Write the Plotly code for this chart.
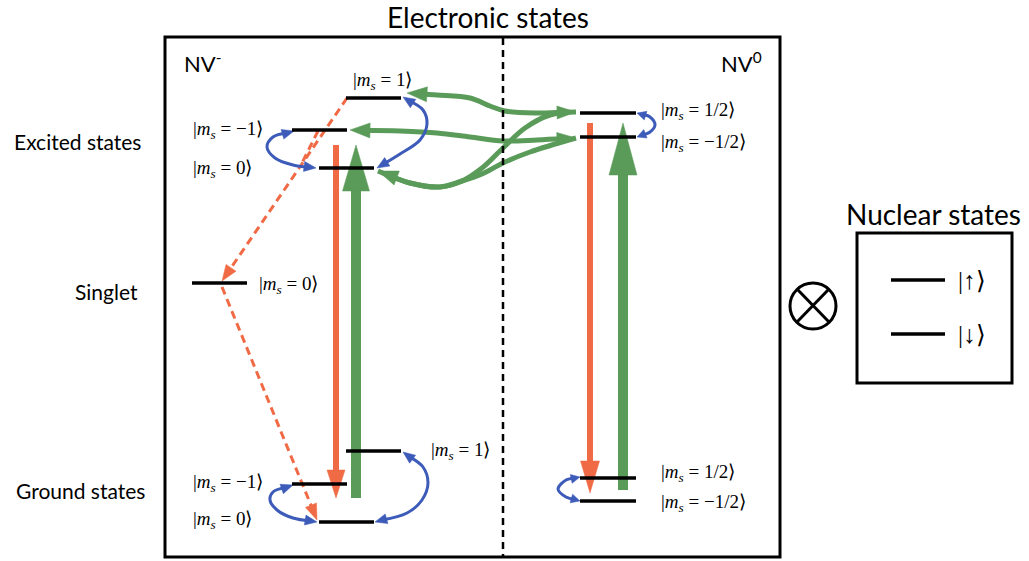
import math
import plotly.graph_objects as go

W, H = 1029, 561

RED = "#F06A45"
GREEN = "#5B9B5A"
BLUE = "#3D5BB9"

# ---- energy levels (name, x-start, x-end, energy position) ----
level_names = ["es_p1", "es_m1", "es_0", "singlet", "gs_p1", "gs_m1", "gs_0",
               "nv0_es_up", "nv0_es_dn", "nv0_gs_up", "nv0_gs_dn"]
level_x0 = [346, 292, 319, 192, 346, 292, 319, 580, 580, 580, 580]
level_x1 = [401, 347, 374, 247, 401, 347, 374, 636, 636, 636, 636]
level_y = [98, 130, 168, 283, 451, 484, 522, 113, 137, 478, 501]

# ---- state labels ----
label_values = ["1", "−1", "0", "0", "1", "−1", "0", "1/2", "−1/2", "1/2", "−1/2"]
label_x = [351, 191, 191, 257, 429, 191, 191, 659, 659, 659, 659]
label_y = [81, 130, 169, 285, 451, 483, 520, 111, 143, 473, 503]

# ---- nuclear levels ----
nuc_labels = ["|↑⟩", "|↓⟩"]
nuc_y = [280, 334]
nuc_x0, nuc_x1 = 891, 945

# ---- optical transitions (x, start, end) ----
vert_x = [336, 356, 590, 623]
vert_from = [145, 498, 123, 490]
vert_to = [498, 145, 493, 123]
vert_color = [RED, GREEN, RED, GREEN]
vert_width = [6, 10, 6, 10]
vert_head = [(28, 18), (46, 27), (32, 19), (52, 28)]

# ---- spin-mixing curves (blue, double headed) ----
blue_curves = [
    [(294, 131), (273, 137), (267, 147), (275, 158), (293, 165), (316, 168)],
    [(403, 97), (423, 110), (427, 124), (420, 140), (400, 154), (377, 168)],
    [(293, 485), (273, 492), (270, 500), (277, 510), (293, 518), (317, 522)],
    [(403, 452), (423, 467), (428, 483), (422, 500), (407, 513), (375, 522)],
    [(637, 113), (650, 117), (655, 125), (650, 132), (637, 137)],
    [(580, 477), (566, 480), (558, 489), (566, 497), (580, 501)],
]
blue_head = [(12, 10), (12, 10), (12, 10), (12, 10), (9, 9), (9, 9)]

# ---- charge conversion curves (green) ----
green_curves = [
    [(407, 93), (437, 95), (470, 98), (490, 106), (505, 111), (537, 113), (576, 112)],
    [(350, 130), (400, 131), (437, 133), (470, 137), (503, 141), (537, 140), (576, 138)],
    [(378, 171), (410, 183), (440, 187), (462, 181), (482, 168), (503, 148), (525, 128), (550, 115), (576, 112)],
    [(378, 171), (410, 183), (440, 187), (462, 181), (482, 174), (503, 163), (530, 152), (576, 138)],
]
green_heads_start = [True, True, True, False]
green_heads_end = [True, True, False, False]

# ---- intersystem crossing (red dashed) ----
dashed_lines = [
    [(347, 98), (222, 281)],
    [(318, 131), (301, 165)],
    [(222, 287), (317, 520)],
]
dashed_heads_end = [True, False, True]

fig = go.Figure()


def head(tip, frm, L, Wd, color):
    dx, dy = tip[0] - frm[0], tip[1] - frm[1]
    n = math.hypot(dx, dy)
    ux, uy = dx / n, dy / n
    bx, by = tip[0] - ux * L, tip[1] - uy * L
    px, py = -uy, ux
    xs = [tip[0], bx + px * Wd / 2, bx - px * Wd / 2, tip[0]]
    ys = [tip[1], by + py * Wd / 2, by - py * Wd / 2, tip[1]]
    fig.add_trace(go.Scatter(x=xs, y=ys, mode="lines", fill="toself",
                             fillcolor=color, line=dict(color=color, width=0.5),
                             hoverinfo="skip"))


def shorten(pts, L, at_start, at_end):
    pts = list(pts)
    if at_start:
        (x0, y0), (x1, y1) = pts[0], pts[1]
        d = math.hypot(x1 - x0, y1 - y0)
        pts[0] = (x0 + (x1 - x0) / d * L, y0 + (y1 - y0) / d * L)
    if at_end:
        (x0, y0), (x1, y1) = pts[-1], pts[-2]
        d = math.hypot(x1 - x0, y1 - y0)
        pts[-1] = (x0 + (x1 - x0) / d * L, y0 + (y1 - y0) / d * L)
    return pts


# vertical optical arrows
for x, y0, y1, c, w, (L, Wd) in zip(vert_x, vert_from, vert_to, vert_color, vert_width, vert_head):
    sgn = 1 if y1 > y0 else -1
    fig.add_trace(go.Scatter(x=[x, x], y=[y0, y1 - sgn * (L - 2)], mode="lines",
                             line=dict(color=c, width=w), hoverinfo="skip"))
    head((x, y1), (x, y0), L, Wd, c)

# red dashed
for pts, he in zip(dashed_lines, dashed_heads_end):
    p = shorten(pts, 12, False, he)
    fig.add_trace(go.Scatter(x=[q[0] for q in p], y=[q[1] for q in p], mode="lines",
                             line=dict(color=RED, width=3, dash="8px,5px"), hoverinfo="skip"))
    if he:
        head(pts[-1], pts[0], 16, 12, RED)

# green curves
for pts, hs, he in zip(green_curves, green_heads_start, green_heads_end):
    p = shorten(pts, 12, hs, he)
    fig.add_trace(go.Scatter(x=[q[0] for q in p], y=[q[1] for q in p], mode="lines",
                             line=dict(color=GREEN, width=5, shape="spline"), hoverinfo="skip"))
    if hs:
        head(pts[0], pts[1], 20, 15, GREEN)
    if he:
        head(pts[-1], pts[-2], 19, 13, GREEN)

# blue curves
for pts, (L, Wd) in zip(blue_curves, blue_head):
    p = shorten(pts, L * 0.6, True, True)
    fig.add_trace(go.Scatter(x=[q[0] for q in p], y=[q[1] for q in p], mode="lines",
                             line=dict(color=BLUE, width=3, shape="spline"), hoverinfo="skip"))
    head(pts[0], pts[1], L, Wd, BLUE)
    head(pts[-1], pts[-2], L, Wd, BLUE)

# energy levels on top
for x0, x1, y in zip(level_x0, level_x1, level_y):
    fig.add_trace(go.Scatter(x=[x0, x1], y=[y, y], mode="lines",
                             line=dict(color="black", width=3.5), hoverinfo="skip"))
for y in nuc_y:
    fig.add_trace(go.Scatter(x=[nuc_x0, nuc_x1], y=[y, y], mode="lines",
                             line=dict(color="black", width=3.5), hoverinfo="skip"))

# frames
shapes = [
    dict(type="rect", x0=165, y0=37, x1=780, y1=557, line=dict(color="black", width=3)),
    dict(type="line", x0=503, y0=38, x1=503, y1=556, line=dict(color="black", width=2.5, dash="7px,5px")),
    dict(type="rect", x0=857, y0=233, x1=1012, y1=383, line=dict(color="black", width=3)),
    dict(type="circle", x0=790, y0=283, x1=836, y1=329, line=dict(color="black", width=3)),
    dict(type="line", x0=797, y0=289, x1=829, y1=322, line=dict(color="black", width=3)),
    dict(type="line", x0=797, y0=322, x1=829, y1=289, line=dict(color="black", width=3)),
]

ann = []
SANS = "Lato"
SERIF = "Liberation Serif"
ann.append(dict(x=488, y=17, text="Electronic states", font=dict(family=SANS, size=28, color="black")))
ann.append(dict(x=933, y=214, text="Nuclear states", font=dict(family=SANS, size=28, color="black")))
ann.append(dict(x=143, y=141, text="Excited states", xanchor="right", font=dict(family=SANS, size=21, color="black")))
ann.append(dict(x=140, y=291, text="Singlet", xanchor="right", font=dict(family=SANS, size=21, color="black")))
ann.append(dict(x=147, y=490, text="Ground states", xanchor="right", font=dict(family=SANS, size=21, color="black")))
ann.append(dict(x=182, y=62, text="NV<sup>-</sup>", xanchor="left", font=dict(family=SANS, size=22, color="black")))
ann.append(dict(x=764, y=62, text="NV<sup>0</sup>", xanchor="right", font=dict(family=SANS, size=22, color="black")))

for v, x, y in zip(label_values, label_x, label_y):
    ann.append(dict(x=x, y=y, xanchor="left",
                    text=f"|<i>m<sub>s</sub></i> = {v}⟩",
                    font=dict(family=SERIF, size=19, color="black")))
for t, y in zip(nuc_labels, nuc_y):
    ann.append(dict(x=956, y=y, xanchor="left", text=t,
                    font=dict(family=SERIF, size=25, color="black")))

for a in ann:
    a.setdefault("showarrow", False)
    a.setdefault("yanchor", "middle")
    a["xref"] = "x"
    a["yref"] = "y"

fig.update_layout(
    width=W, height=H,
    margin=dict(l=0, r=0, t=0, b=0),
    paper_bgcolor="white", plot_bgcolor="white",
    showlegend=False,
    xaxis=dict(range=[0, W], visible=False, fixedrange=True),
    yaxis=dict(range=[H, 0], visible=False, fixedrange=True),
    shapes=shapes,
    annotations=ann,
)

fig.write_html("out.html", config={"displayModeBar": False},
               post_script="document.body.style.margin='0';document.body.style.overflow='hidden';")
